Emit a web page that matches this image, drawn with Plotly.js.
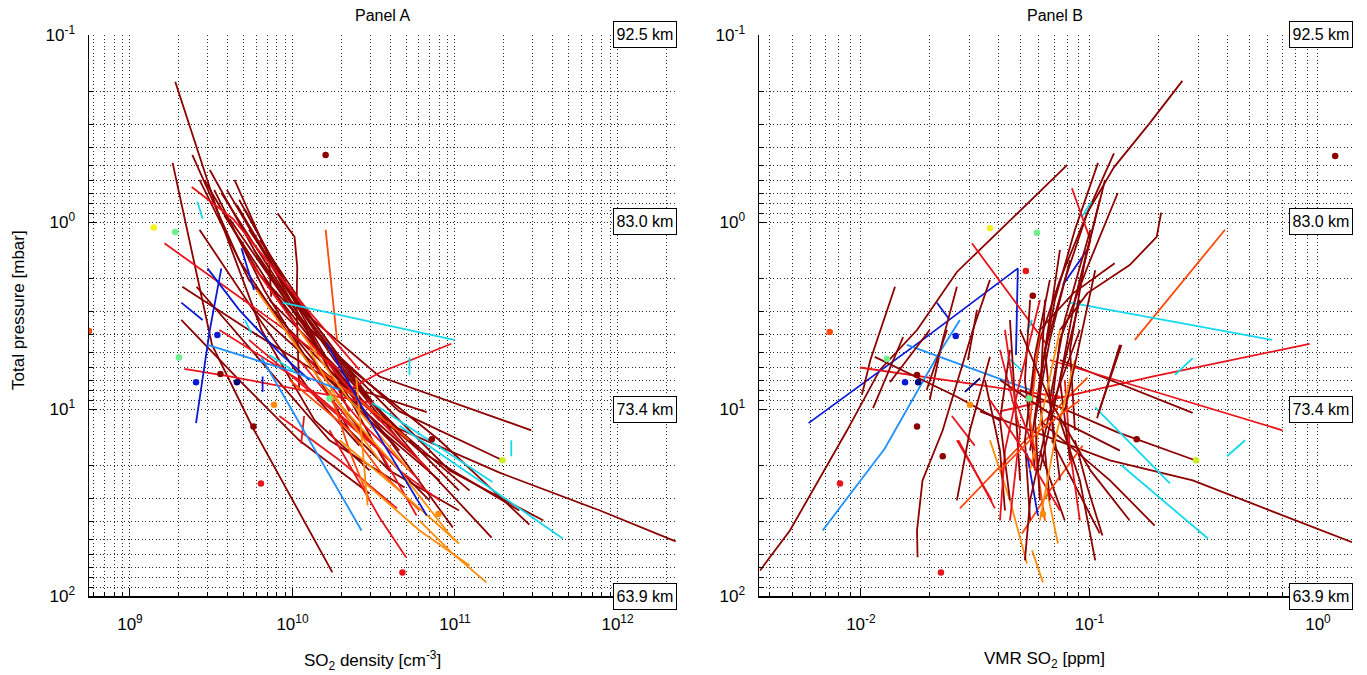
<!DOCTYPE html>
<html><head><meta charset="utf-8">
<script src="https://cdn.plot.ly/plotly-3.0.1.min.js"></script>
<style>html,body{margin:0;padding:0;background:#fff}#chart{width:1367px;height:675px}</style>
</head><body><div id="chart"></div>
<script>
const COL = {dk:'#8c0000', rd:'#e8141c', or:'#ff4a0a', og:'#ff8c0a', bl:'#0a18d8', nv:'#00007a',
             db:'#1e90ff', cy:'#14d8ee', lg:'#6ef08c', ye:'#f2f21e', yg:'#cdef26'};
const DENS_UNIT = 1e10; // density arrays below are in units of 1e10 cm^-3

// ---------- Panel A : SO2 density profiles ----------
const aP = [
 [0.178,0.94,3.78,11.5,21.3],[0.483,4.54,12.6,74.8],[0.438,1.6,4.83,14.7,43],[0.596,2.04,7.0,18.8,48.7],
 [0.596,1.92,5.47,14.7,41.5],[0.92,3.78,11.5,21.9,34.9,51],[0.70,2.61,6.7,13.0],[0.96,3.34,10.3,18.8],
 [2.22,3.78,7.0,10.4],[2.22,5.47,14.7,26.3],[3.34,7.0,14.7,28.3],[0.76,2.31,6.18,21.3,39.5],
 [1.1,3.34,8.95,27.3],[1.25,3.78,10.3,16.7],[1.66,2.51],[0.9,1.2,1.74,2.85,7.9],
 [0.596,2.04,6.18,16.7],[0.86,2.95,7.9,21.3],[0.673,2.31,7.0,13.0],[2.95,5.47,12.6],
 [1.1,3.34,7.9,15.7],[2.61,5.47,13.0,27.3],[3.78,7.9,16.7,34.9],
 [0.527,1.6,4.83,11.5],[0.673,1.81,5.47,14.7],[0.81,2.17,6.18,18.8],[2.04,4.83,11.5,24.1],
 [7.0,14.7,30.8],[1.41,3.78,10.3],[11.5,21.3,34.9],
 [1.3,2.45,4.27,6.18],[6.1,6.7,9.3],[10.9,18.8,34],[15.3,10.9],[8.4,6.4,4.48],[0.65,0.96,2.61,6.18],
 [4.27,8.95,16.7,37.1],[5.47,11.5,21.3,30.8],[3.78,7.0,14.7],[13.0,38,62],[1.6,3.78,8.95,21.3],[5.47,11.5,24.1],
 [1.1,4.27],[7.0,13.0,21.3,34.9],[6.18,8.95,14.7],[7.9,16.7,30.8],
 [2.31,8.2,21.3,50.5],[6.8,32.8],[14.7,27.3,52.4],[23.4,44.6,68.6],[39.5,58.5,84.6],[4.83,11.5,18.8],[3.78,8.95,21.3],
 [1.77,3.78,11.9],[1.77,2.95,5.0,7.0],[1.38,2.31],[2.7,3.34],[6.7,8.1],[4.43,11.5,37.1],
 [4.54,6.3,7.9],[5.3,14.7,44.6],
 [0.78,0.96],[3.34,3.94],[5.14,6.3],[2.7,4.27],[9.3,14.7,24.6],[12.3,24.1,49.3],[5.3,6.57],[14.7,17.9]
];
const aN = [
 [0.19,0.355,0.645,1.37,2.98],[0.183,0.32,0.57,1.76],[0.242,0.47,1.1,3.95,9.7],[0.268,0.54,1.69,6.05,16.8],
 [0.287,0.63,1.95,8.03,28.7],[0.38,1.1,3.43,18.8,78,228],[0.365,0.96,3.43,29.5],[0.41,1.1,4.55,19.6],
 [0.21,0.54,1.69,6.7],[0.257,0.63,1.69,4.9],[0.207,0.47,1.1,2.98],[0.47,0.96,2.24,9.25,35],
 [0.54,1.27,2.98,10.6],[0.63,1.47,3.43,6.05],[0.72,0.74],[0.81,1.03,1.07,1.06,1.1],
 [0.44,0.83,1.69,4.55],[0.51,1.1,2.09,3.95],[0.33,0.67,1.47,2.24],[0.58,1.27,4.1],
 [0.268,0.63,1.27,2.58],[0.72,1.69,4.55,12.3],[0.96,2.24,6.05,24.9],
 [0.31,0.63,1.47,3.43],[0.395,0.77,1.81,4.55],[0.455,0.89,2.09,6.05],[0.67,1.47,2.98,8.03],
 [1.47,2.98,6.97],[0.58,1.27,2.24],[1.95,3.95,10.6],
 [0.163,0.455,1.1,1.95],[0.216,0.41,3.1],[0.83,1.95,4.4],[1.13,1.18],[1.95,3.43,9.5],[0.24,0.43,1.1,2.58],
 [0.54,1.47,3.43,5.8],[1.1,2.24,4.55,8.03],[0.355,1.1,2.98],[1.69,3.43,5.0],[0.54,1.1,2.58,6.97],[1.27,2.58,6.05],
 [1.6,1.88],[0.96,2.24,3.43,6.05],[1.47,2.58,5.25],[1.69,2.24,2.98],
 [0.6,1.69,4.55,9.9],[2.47,2.9],[1.95,4.55,10.6],[2.58,6.05,12.3],[6.05,9.5,15.6],[1.27,2.24,3.43],[1.1,2.24,5.25],
 [0.365,0.31,0.255],[0.3,0.47,0.83,1.27],[0.485,0.58],[0.207,0.28],[0.655,0.655],[1.62,2.98,6.7],
 [0.3,1.0,1.95],[0.645,1.27,2.66],
 [0.26,0.28],[0.51,0.56],[0.72,1.03],[0.87,9.9],[3.1,6.97,17],[4.55,14.1,46],[5.25,5.25],[22.2,22.2]
];
const aC = ['dk','dk','dk','dk','dk','dk','dk','dk','dk','dk','dk','dk','dk','dk','dk','dk','dk','dk','dk','dk','dk','dk','dk',
 'dk','dk','dk','dk','dk','dk','dk',
 'rd','rd','rd','rd','rd','rd','rd','rd','rd','rd','rd','rd',
 'or','or','or','or',
 'og','og','og','og','og','og','og',
 'bl','bl','bl','bl','bl','bl','db','db','cy','cy','cy','cy','cy','cy','cy','cy'];
const aDotN = [0.14,0.19,0.056,0.2,0.255,0.345,0.455,0.36,0.77,0.575,0.64,1.6,1.69,4.75,7.2,7.9,19.6];
const aDotP = [1.07,1.13,3.83,5.3,7.2,4.02,7.2,6.5,9.5,12.4,25.0,0.438,8.8,74.8,14.5,36.4,18.8];
const aDotC = ['ye','lg','or','lg','bl','bl','nv','dk','og','dk','rd','dk','lg','rd','dk','og','yg'];

// ---------- Panel B : SO2 VMR profiles (ppm) ----------
const bP = [
 [73,44.6,13.0,6.18,3.78,1.85,0.495],[0.176,0.295,0.51,0.89,2.04,4.27,8.95],[11.9,4.27,1.77,5.14],[2.7,3.3],
 [1.3,4.54],[2.22,5.47,8.4],[2.22,4.27,8.95],[0.43,0.89,2.04,4.83,11.5],[0.483,1.1,2.61,7.0,16.7],
 [0.7,1.74,4.27,11.5],[0.89,1.2,1.7,2.4,3.78],[1.66,2.4,3.78],[1.1,4.27],[2.7,4.27],[1.38,2.17],[0.78,0.94],
 [6.0,7.2,8.6],[10.3,6.7,4.48],[5.47,10.5],[5.47,13.0],[10.3,18.8,24.1,51.6],[7.9,13.3,18.8],[9.8,25],
 [20,49.3],[17.9,14.7],[6.57,5.34],[11.5,24.1,42],[10.7,4.54],[14.7,26.2,47.5],[16.7,33.6,39.5],
 [57,84.6],[27.3,52.4],[44.6,16.3,5.26,3.34],[4.54,7.9],[5.26,8.6,11.5],[9.9,4.12],
 [62,44.6,24.1,13.0,3.78,2.04],[7.9,3.78],[7.2,3.78],[10.9,15.7],[14.7,30.8],[14.7,30.8,67],
 [34,15.7,6.8],[46.3,27.3,15.7],[14.7,34],[30.8,13.0,5.26],[17.3,37.1],[14.7,46.3],[4.54,11.2],
 [5.26,6.3],[3.88,3.34],[8.1,6.85],[2.95,5.47],[0.66,1.25,2.61],[3.34,8.95,24.1],[2.61,7.0,21.3],
 [2.61,8.95,30.8],[1.41,4.83,16.7],[4.83,13.0,39.5],[3.78,11.5,39.5],[3.78,8.95,21.3],[2.61,7.0,21.3],
 [7.0,16.7,39.5],[7.0,16.7,34.9],
 [2.04,5.14,14.7,39.5],[1.6,4.27,11.5,30.8],[1.1,3.34,8.95,24.1],[0.76,2.61,7.0,18.8],[0.596,1.6,4.83,13.0],
 [2.61,7.0,16.7,39.5],[4.83,11.5,30.8],[8.95,18.8,34.9],[3.78,10.3,30.8,64.5],[5.47,14.7,39.5],
 [3.78,8.95,21.3,39.5],[7.0,11.5,16.7],[3.78,8.95,16.7],[1.81,4.27,10.3],[11.5,24.1,64.5],[21.3,13.0,8.95]
];
const bV = [
 [0.00362,0.00489,0.0087,0.0121,0.0176,0.0263,0.08],[0.255,0.184,0.128,0.098,0.0743,0.0607,0.055],
 [0.0059,0.0186,0.0486,0.0477],[0.0215,0.0243],[0.0306,0.0652],[0.0141,0.011,0.0101],[0.0263,0.0228,0.02],
 [0.128,0.098,0.078,0.0639,0.0578],[0.109,0.0864,0.0706,0.0607,0.055],[0.133,0.098,0.0743,0.0671],
 [0.206,0.197,0.15,0.098,0.0743],[0.129,0.085,0.0607],[0.392,0.158],[0.0822,0.63],[0.099,0.0765],[0.102,0.0925],
 [0.0099,0.0271,0.0743],[0.0406,0.19,0.92],[0.0743,0.283],[0.0671,0.70],[0.0332,0.123,0.283,1.41],
 [0.0497,0.132,0.29],[0.106,0.225],[0.138,0.33],[0.4,0.48],[0.237,0.283],[0.0607,0.123,0.193],[0.109,0.138],
 [0.0864,0.098,0.114],[0.0607,0.0743,0.078],[0.0561,0.0626],[0.0652,0.0728],[0.0068,0.0127,0.0215,0.0271],
 [0.0159,0.055],[0.0115,0.0263,0.0406],[0.0113,0.0153],[0.0177,0.0176,0.0186,0.0228,0.0309,0.0367],
 [0.0194,0.0238],[0.0134,0.02],[0.025,0.0315],[0.0263,0.0374],[0.0367,0.0449,0.0533],[0.0271,0.0497,0.098],
 [0.0507,0.0671,0.0934],[0.0267,0.0386],[0.0263,0.03,0.0367],[0.0533,0.0595],[0.0685,0.111],[0.136,0.108],
 [0.0436,0.0512],[0.0533,0.0561],[0.0285,0.0332],[0.0322,0.0294],[0.0838,0.101,0.0864],[0.0449,0.0472,0.0497],
 [0.055,0.0522,0.0578],[0.0639,0.0607,0.0671],[0.0743,0.0639,0.0706],[0.0406,0.0497,0.0449],[0.0607,0.055,0.0639],
 [0.0743,0.0639,0.055],[0.0908,0.0743,0.0607],[0.078,0.0822,0.0908],[0.0349,0.0406,0.0427],
 [0.0671,0.0578,0.0522,0.055],[0.0822,0.0671,0.0578,0.0607],[0.101,0.078,0.0671,0.0743],[0.111,0.0864,0.0743,0.0822],
 [0.117,0.0955,0.0822,0.0864],[0.0607,0.0497,0.0427,0.0406],[0.0449,0.0406,0.0449],[0.0367,0.055,0.0743],
 [0.0908,0.0671,0.055,0.0522],[0.0864,0.0706,0.0607],[0.0497,0.0671,0.101,0.15],[0.0406,0.0743,0.136],
 [0.0427,0.0472,0.0578],[0.106,0.0908,0.078],[0.0743,0.0908,0.106],[0.0406,0.0607,0.0908]
];
const bC = ['dk','dk','bl','bl','rd','dk','dk','dk','dk','dk','dk','dk','or','cy','bl','cy',
 'rd','rd','dk','rd','dk','dk','cy','cy','cy','cy','dk','dk','dk','dk','og','og','db','db','dk','dk',
 'dk','dk','dk','rd','rd','og','or','or','rd','dk','bl','dk','dk','cy','cy','nv','dk','rd','dk','dk',
 'dk','dk','rd','or','og','dk','rd','dk',
 'dk','dk','dk','dk','dk','rd','dk','rd','dk','og','dk','dk','rd','dk','dk','or'];
const bDotV = [0.0073,0.0130,0.0176,0.0156,0.0178,0.030,0.0176,0.0228,0.0081,0.0224,0.0367,0.0589,0.0527,0.0565,0.026,1.19,0.161,0.293,0.0544,0.0626];
const bDotP = [3.88,5.4,6.57,7.2,7.2,9.5,12.4,17.9,25.0,74.8,1.08,1.14,1.83,2.48,4.07,0.443,14.5,18.8,8.8,36.4];
const bDotC = ['or','lg','dk','bl','nv','og','dk','dk','rd','rd','ye','lg','rd','dk','bl','dk','dk','yg','lg','og'];

// ---------- ticks & labels ----------
const yTicks = [0.1,1,10,100], yText = ['10<sup>-1</sup>','10<sup>0</sup>','10<sup>1</sup>','10<sup>2</sup>'];
const xaTicks = [1e9,1e10,1e11,1e12], xaText = ['10<sup>9</sup>','10<sup>10</sup>','10<sup>11</sup>','10<sup>12</sup>'];
const xbTicks = [0.01,0.1,1], xbText = ['10<sup>-2</sup>','10<sup>-1</sup>','10<sup>0</sup>'];
const altP = [0.1,1,10,100], altText = ['92.5 km','83.0 km','73.4 km','63.9 km'];

function minorVals(lo, hi){ const out=[]; for(let e=Math.floor(Math.log10(lo)); e<=Math.ceil(Math.log10(hi)); e++){ for(let k=2;k<=9;k++){const v=k*Math.pow(10,e); if(v>=lo&&v<=hi) out.push(v);} } return out; }

const traces = [];
function addLines(P, X, C, unit, xa, ya){
  for(let i=0;i<P.length;i++) traces.push({type:'scatter',mode:'lines',x:X[i].map(v=>v*unit),y:P[i],xaxis:xa,yaxis:ya,
    line:{color:COL[C[i]],width:1.8},hoverinfo:'skip'});
}
function addDots(X, P, C, unit, xa, ya){
  traces.push({type:'scatter',mode:'markers',x:X.map(v=>v*unit),y:P,xaxis:xa,yaxis:ya,
    marker:{color:C.map(c=>COL[c]),size:6.5},hoverinfo:'skip',cliponaxis:true});
}
addLines(aP,aN,aC,DENS_UNIT,'x','y'); addDots(aDotN,aDotP,aDotC,DENS_UNIT,'x','y');
addLines(bP,bV,bC,1,'x2','y2'); addDots(bDotV,bDotP,bDotC,1,'x2','y2');

const W=1367,H=675;
const GRID = {showgrid:true,gridcolor:'#2a2a2a',griddash:'1px,2.5px',gridwidth:1};
function axis(extra, minorTv){
  return Object.assign({type:'log',showline:true,linecolor:'#000',linewidth:1.5,ticks:'inside',ticklen:8,tickcolor:'#000',
    tickwidth:1,zeroline:false,automargin:false,mirror:false,tickmode:'array',
    tickfont:{family:'Liberation Sans, Arial, sans-serif',size:17,color:'#000'},
    minor:Object.assign({tickmode:'array',tickvals:minorTv,ticks:'inside',ticklen:4,tickcolor:'#000'},GRID)},GRID,extra);
}
const ydom=[1-596/H,1-35/H];
const layout = {
  width:W,height:H,margin:{l:0,r:0,t:0,b:0},paper_bgcolor:'#fff',plot_bgcolor:'#fff',showlegend:false,
  xaxis: axis({domain:[89/W,676/W],range:[8.748,12.36],tickvals:xaTicks,ticktext:xaText,anchor:'y',ticklabelstandoff:12}, minorVals(5.6e8,2.3e12)),
  yaxis: axis({domain:ydom,range:[2,-1],tickvals:yTicks,ticktext:yText,anchor:'x',ticklabelstandoff:9}, minorVals(0.1,100)),
  xaxis2: axis({domain:[759/W,1352/W],range:[-2.446,0.149],tickvals:xbTicks,ticktext:xbText,anchor:'y2',ticklabelstandoff:12}, minorVals(0.00358,1.41)),
  yaxis2: axis({domain:ydom,range:[2,-1],tickvals:yTicks,ticktext:yText,anchor:'x2',ticklabelstandoff:9}, minorVals(0.1,100)),
  annotations:[]
};
const F = {family:'Liberation Sans, Arial, sans-serif',color:'#000'};
const ann = layout.annotations;
const C = {xanchor:'center',yanchor:'middle',showarrow:false};
ann.push(Object.assign({xref:'paper',yref:'paper',x:382/W,y:1-15/H,text:'Panel A',font:Object.assign({size:16},F)},C));
ann.push(Object.assign({xref:'paper',yref:'paper',x:1055/W,y:1-15/H,text:'Panel B',font:Object.assign({size:16},F)},C));
ann.push(Object.assign({xref:'paper',yref:'paper',x:372/W,y:1-660/H,text:'SO<sub>2</sub> density [cm<sup>-3</sup>]',font:Object.assign({size:17},F)},C));
ann.push(Object.assign({xref:'paper',yref:'paper',x:1044/W,y:1-660/H,text:'VMR SO<sub>2</sub> [ppm]',font:Object.assign({size:17},F)},C));
ann.push(Object.assign({xref:'paper',yref:'paper',x:18/W,y:1-310/H,text:'Total pressure [mbar]',textangle:-90,font:Object.assign({size:17},F)},C));
altP.forEach((p,i)=>{
  [[645,'y'],[1321,'y2']].forEach(([px,yr])=>{
    ann.push(Object.assign({xref:'paper',yref:yr,x:px/W,y:Math.log10(p),text:altText[i],bgcolor:'#fff',
      bordercolor:'#000',borderwidth:1,borderpad:2,width:58,height:21,font:Object.assign({size:16},F)},C));
  });
});
Plotly.newPlot('chart',traces,layout,{staticPlot:true});
</script></body></html>
